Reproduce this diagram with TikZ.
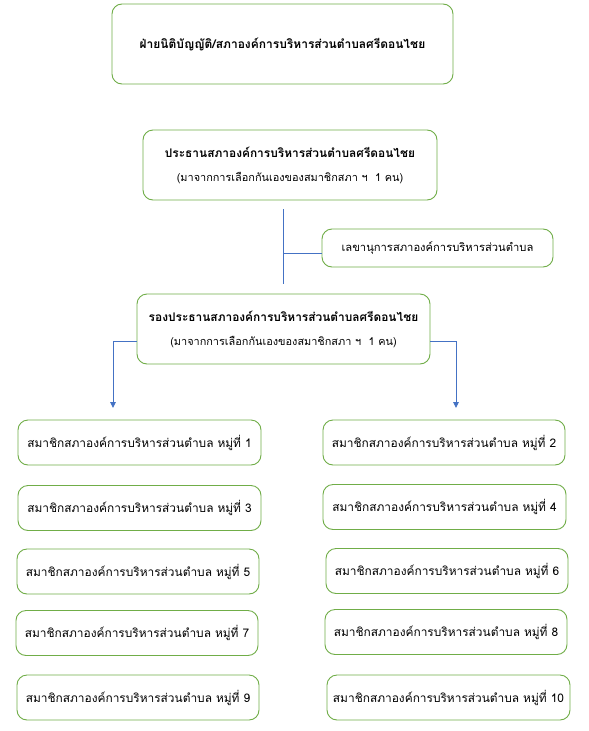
\documentclass[tikz,border=0pt]{standalone}
\usepackage{fontspec}
\newfontfamily\thai[Script=Thai]{Loma}
\usetikzlibrary{calc,arrows.meta}
\definecolor{boxgreen}{RGB}{112,173,71}
\definecolor{linkblue}{RGB}{68,114,196}
\begin{document}
\begin{tikzpicture}[x=1pt,y=-1pt,
  box/.style={draw=boxgreen,line width=0.9pt,rounded corners=10pt,fill=white,inner sep=0pt,align=center},
  member/.style={box,minimum height=45pt,font=\thai\fontsize{11.9}{14}\selectfont},
  conn/.style={draw=linkblue,line width=0.9pt},
  arr/.style={conn,-{Triangle[length=6pt,width=5.5pt]}}]
\useasboundingbox[fill=white] (0,0) rectangle (589,731);
\node[box,minimum width=341pt,minimum height=80pt,font=\thai\bfseries\fontsize{12}{15}\selectfont] (top) at (282.5,44) {ฝ่ายนิติบัญญัติ/สภาองค์การบริหารส่วนตำบลศรีดอนไชย};
\node[box,minimum width=294pt,minimum height=70pt,font=\thai\fontsize{11.9}{24}\selectfont] (chair) at (290,165) {{\bfseries ประธานสภาองค์การบริหารส่วนตำบลศรีดอนไชย}\\{\fontsize{10.9}{13}\selectfont(มาจากการเลือกกันเองของสมาชิกสภา ฯ~~1 คน)}};
\node[box,minimum width=231pt,minimum height=38pt,font=\thai\fontsize{11.2}{14}\selectfont] (sec) at (437.5,248) {เลขานุการสภาองค์การบริหารส่วนตำบล};
\node[box,minimum width=293pt,minimum height=70pt,font=\thai\fontsize{11.9}{24}\selectfont] (vice) at (283.5,329) {{\bfseries รองประธานสภาองค์การบริหารส่วนตำบลศรีดอนไชย}\\{\fontsize{10.9}{13}\selectfont(มาจากการเลือกกันเองของสมาชิกสภา ฯ~~1 คน)}};
\node[member,minimum width=243pt] (m1) at (139.5,442.5) {สมาชิกสภาองค์การบริหารส่วนตำบล หมู่ที่ 1};
\node[member,minimum width=242pt] (m2) at (444,442.5) {สมาชิกสภาองค์การบริหารส่วนตำบล หมู่ที่ 2};
\node[member,minimum width=243pt] (m3) at (139.5,508) {สมาชิกสภาองค์การบริหารส่วนตำบล หมู่ที่ 3};
\node[member,minimum width=243pt] (m4) at (444.5,507) {สมาชิกสภาองค์การบริหารส่วนตำบล หมู่ที่ 4};
\node[member,minimum width=242pt] (m5) at (138,571.5) {สมาชิกสภาองค์การบริหารส่วนตำบล หมู่ที่ 5};
\node[member,minimum width=242pt] (m6) at (447,571) {สมาชิกสภาองค์การบริหารส่วนตำบล หมู่ที่ 6};
\node[member,minimum width=242pt] (m7) at (137,633) {สมาชิกสภาองค์การบริหารส่วนตำบล หมู่ที่ 7};
\node[member,minimum width=242pt] (m8) at (446,632) {สมาชิกสภาองค์การบริหารส่วนตำบล หมู่ที่ 8};
\node[member,minimum width=242pt] (m9) at (138,697.5) {สมาชิกสภาองค์การบริหารส่วนตำบล หมู่ที่ 9};
\node[member,minimum width=243pt] (m10) at (448.5,697.5) {สมาชิกสภาองค์การบริหารส่วนตำบล หมู่ที่ 10};
% connectors
\coordinate (c1) at (283,209);
\coordinate (c2) at (283,284);
\coordinate (cb) at (283,253);
\draw[conn] (c1) -- (c2);
\draw[conn] (cb) -- (cb -| sec.west);
\coordinate (la) at ($(vice.west)+(0,12)$);
\coordinate (ra) at ($(vice.east)+(0,12)$);
\coordinate (lt) at (113,408);
\coordinate (rt) at (456,408);
\draw[arr] (la) -| (lt);
\draw[arr] (ra) -| (rt);
\end{tikzpicture}
\end{document}
